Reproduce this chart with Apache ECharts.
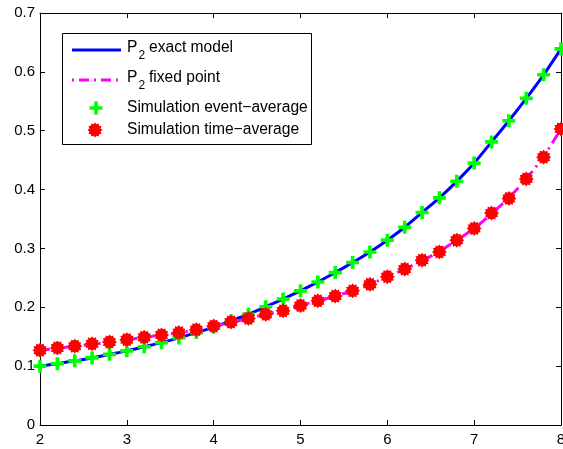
<!DOCTYPE html>
<html>
<head>
<meta charset="utf-8">
<script src="https://cdn.jsdelivr.net/npm/echarts@6/dist/echarts.min.js"></script>
<style>html,body{margin:0;padding:0;background:#fff}#c{width:563px;height:449px}</style>
</head>
<body>
<div id="c"></div>
<script>
// ---- data ----
var xValues = [2.0,2.2,2.4,2.6,2.8,3.0,3.2,3.4,3.6,3.8,4.0,4.2,4.4,4.6,4.8,5.0,5.2,5.4,5.6,5.8,6.0,6.2,6.4,6.6,6.8,7.0,7.2,7.4,7.6,7.8,8.0];
var exactModel = [0.100,0.104,0.109,0.114,0.120,0.126,0.133,0.140,0.148,0.157,0.166,0.177,0.188,0.201,0.214,0.228,0.243,0.259,0.276,0.294,0.314,0.336,0.361,0.386,0.414,0.445,0.481,0.517,0.555,0.595,0.639];
var fixedPoint = [0.127,0.130,0.134,0.137,0.141,0.145,0.149,0.153,0.157,0.162,0.168,0.174,0.181,0.188,0.195,0.203,0.211,0.219,0.228,0.239,0.252,0.265,0.279,0.295,0.314,0.334,0.359,0.386,0.418,0.456,0.503];
var eventAverage = [0.100,0.104,0.109,0.114,0.120,0.126,0.133,0.140,0.148,0.157,0.166,0.177,0.188,0.201,0.214,0.228,0.243,0.259,0.276,0.294,0.314,0.336,0.361,0.386,0.414,0.445,0.481,0.517,0.555,0.595,0.639];
var timeAverage = [0.127,0.131,0.134,0.138,0.141,0.145,0.149,0.153,0.157,0.162,0.168,0.175,0.181,0.188,0.194,0.203,0.211,0.219,0.228,0.239,0.252,0.265,0.280,0.294,0.314,0.334,0.360,0.385,0.418,0.455,0.503];
var xTicks = {min: 2, max: 8, interval: 1};
var yTicks = {min: 0, max: 0.7, interval: 0.1};
var legendNames = ['exact model', 'fixed point', 'Simulation event\u2212average', 'Simulation time\u2212average'];

function pairs(xs, ys) { return xs.map(function (x, i) { return [x, ys[i]]; }); }

// marker shapes (unit geometry)
var plusPts = [[-1,-0.28],[-0.28,-0.28],[-0.28,-1],[0.28,-1],[0.28,-0.28],[1,-0.28],[1,0.28],[0.28,0.28],[0.28,1],[-0.28,1],[-0.28,0.28],[-1,0.28]];
function starPts(n, rIn) {
  var p = [];
  for (var i = 0; i < 2 * n; i++) {
    var r = i % 2 === 0 ? 1 : rIn;
    var a = Math.PI * i / n - Math.PI / 2;
    p.push([r * Math.cos(a), r * Math.sin(a)]);
  }
  return p;
}
var starP = starPts(12, 0.78);
function toPath(pts) {
  return 'path://' + pts.map(function (p, i) { return (i ? 'L' : 'M') + p[0].toFixed(3) + ',' + p[1].toFixed(3); }).join('') + 'Z';
}
function placed(pts, cx, cy, s) { return pts.map(function (p) { return [cx + p[0] * s, cy + p[1] * s]; }); }
var plusPath = toPath(plusPts);
var redStar = toPath(starP);

var FONT = 'Liberation Sans, Arial, sans-serif';
var FS = 15;
var LFS = 15.6;

var chart = echarts.init(document.getElementById('c'), null, {renderer: 'canvas'});

function axisCommon(extra) {
  var o = {
    type: 'value',
    axisLine: {show: true, onZero: false, lineStyle: {color: '#000', width: 1}},
    axisTick: {show: true, inside: true, length: 5, lineStyle: {color: '#000', width: 1}},
    splitLine: {show: false},
    axisLabel: {color: '#000', fontFamily: FONT, fontSize: FS}
  };
  for (var k in extra) o[k] = extra[k];
  return o;
}
function txt(x, y, s, size) {
  return {type: 'text', x: x, y: y, z: 101,
    style: {text: s, fontFamily: FONT, fontSize: size, fill: '#000', verticalAlign: 'middle', align: 'left'}};
}

var lx = 62, ly = 33;
var option = {
  animation: false,
  backgroundColor: '#fff',
  grid: {left: 40, right: 2, top: 13, bottom: 24, containLabel: false, outerBoundsMode: 'none'},
  xAxis: [
    axisCommon({min: xTicks.min, max: xTicks.max, interval: xTicks.interval, position: 'bottom',
      axisLabel: {color: '#000', fontFamily: FONT, fontSize: FS, margin: 7, hideOverlap: false}}),
    axisCommon({min: xTicks.min, max: xTicks.max, interval: xTicks.interval, position: 'top',
      axisLabel: {show: false}})
  ],
  yAxis: [
    axisCommon({min: yTicks.min, max: yTicks.max, interval: yTicks.interval, position: 'left',
      axisLabel: {color: '#000', fontFamily: FONT, fontSize: FS, margin: 5,
        formatter: function (v) { return Math.round(v * 10) / 10 + ''; }}}),
    axisCommon({min: yTicks.min, max: yTicks.max, interval: yTicks.interval, position: 'right',
      axisLabel: {show: false}})
  ],
  series: [
    {name: 'P2 ' + legendNames[0], type: 'line', data: pairs(xValues, exactModel), showSymbol: false, smooth: 0.2,
      lineStyle: {color: '#0000ff', width: 3}, z: 2},
    {name: 'P2 ' + legendNames[1], type: 'line', data: pairs(xValues, fixedPoint), showSymbol: false, smooth: 0.2,
      lineStyle: {color: '#ff00ff', width: 3, type: [10, 5, 2, 5]}, z: 3},
    {name: legendNames[2], type: 'scatter', data: pairs(xValues, eventAverage), symbol: plusPath, symbolSize: 13,
      itemStyle: {color: '#00ff00', opacity: 1}, z: 4},
    {name: legendNames[3], type: 'scatter', data: pairs(xValues, timeAverage), symbol: redStar, symbolSize: 15,
      itemStyle: {color: '#ff0000', opacity: 1}, z: 5}
  ],
  graphic: [
    {type: 'rect', shape: {x: lx + 0.5, y: ly + 0.5, width: 249, height: 111}, style: {fill: '#fff', stroke: '#000', lineWidth: 1}, z: 100},
    {type: 'line', shape: {x1: 72, y1: 50, x2: 121, y2: 50}, style: {stroke: '#0000ff', lineWidth: 3}, z: 101},
    txt(127, 48, 'P', LFS), txt(138.5, 56, '2', 12), txt(149, 48, legendNames[0], LFS),
    {type: 'line', shape: {x1: 72, y1: 80, x2: 121, y2: 80}, style: {stroke: '#ff00ff', lineWidth: 3, lineDash: [2, 5, 10, 5]}, z: 101},
    txt(127, 78, 'P', LFS), txt(138.5, 86, '2', 12), txt(149, 78, legendNames[1], LFS),
    {type: 'polygon', shape: {points: placed(plusPts, 96, 108, 6.5)}, style: {fill: '#00ff00'}, z: 101},
    txt(127, 108, legendNames[2], LFS),
    {type: 'polygon', shape: {points: placed(starP, 95, 130, 7.5)}, style: {fill: '#ff0000'}, z: 101},
    txt(127, 130, legendNames[3], LFS)
  ]
};
chart.setOption(option);
</script>
</body>
</html>
